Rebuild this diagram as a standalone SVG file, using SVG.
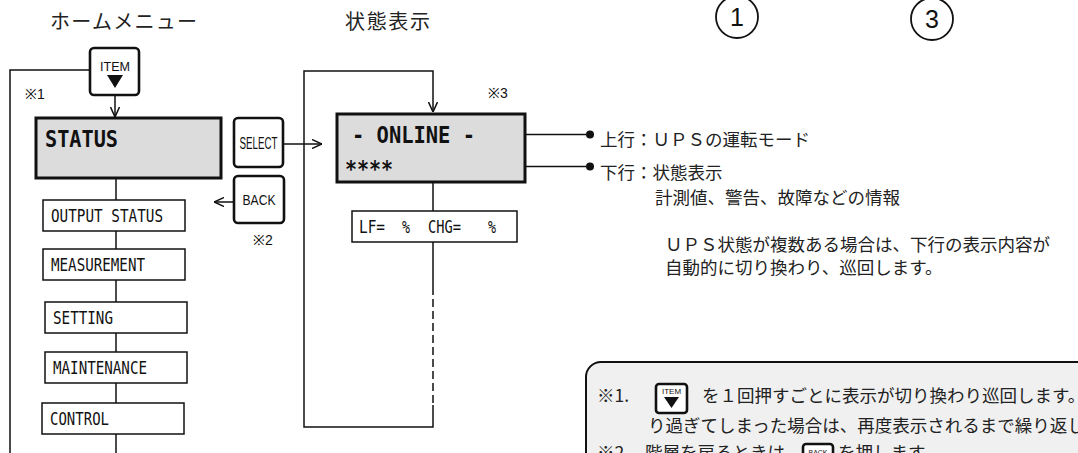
<svg xmlns="http://www.w3.org/2000/svg" width="1078" height="453" viewBox="0 0 1078 453">
<style>
.jp{font-family:"Noto Sans CJK JP","Noto Sans",sans-serif;font-size:17.5px;fill:#222}
.ttl{font-family:"Noto Sans CJK JP","Noto Sans",sans-serif;font-size:20px;fill:#222}
.mono{font-family:"DejaVu Sans Mono","Liberation Mono",monospace;font-size:18.5px;fill:#111}
.big{font-family:"DejaVu Sans Mono","Liberation Mono",monospace;font-size:23px;font-weight:bold;fill:#111}
.key{font-family:"Liberation Sans",Arial,sans-serif;fill:#111}
.ln{fill:none;stroke:#111;stroke-width:1.5}
.box{fill:#fff;stroke:#111;stroke-width:1.5}
.lcd{fill:#dcdcdc;stroke:#111;stroke-width:3}
.btn{fill:#fff;stroke:#111;stroke-width:2.6}
</style>
<defs>
<marker id="ar" viewBox="0 0 10 10" refX="10" refY="5" markerWidth="10" markerHeight="10" markerUnits="userSpaceOnUse" orient="auto">
<path d="M0,0.5 L10,5 L0,9.5" fill="none" stroke="#111" stroke-width="1.5"/>
</marker>
</defs>
<rect width="1078" height="453" fill="#fff"/>

<g id="titles">
<text class="ttl" x="50" y="29" textLength="147" lengthAdjust="spacing">ホームメニュー</text>
<text class="ttl" x="345" y="29" textLength="85" lengthAdjust="spacing">状態表示</text>
</g>

<g id="circle1">
<circle cx="737" cy="17" r="21" fill="none" stroke="#111" stroke-width="1.8"/>
<text class="key" x="737" y="26" font-size="25" text-anchor="middle">1</text>
</g>
<g id="circle3">
<circle cx="932" cy="19" r="21" fill="none" stroke="#111" stroke-width="1.8"/>
<text class="key" x="932" y="28" font-size="25" text-anchor="middle">3</text>
</g>

<g id="connectors">
<path class="ln" d="M90,70 H10 V453"/>
<path class="ln" d="M116,178 V453"/>
<path class="ln" d="M115,95 V117" marker-end="url(#ar)"/>
<path class="ln" d="M283,144 H322" marker-end="url(#ar)"/>
<path class="ln" d="M234,202 H214" marker-end="url(#ar)"/>
<path class="ln" d="M433,182 V211"/>
<path class="ln" d="M433,242 V287"/>
<path class="ln" d="M433,287 V405" stroke-dasharray="8,4"/>
<path class="ln" d="M433,405 V427 H304 V71 H433 V112" marker-end="url(#ar)"/>
<path class="ln" d="M493,134.5 H590"/>
<path class="ln" d="M440,166.5 H590"/>
<circle cx="590" cy="134.5" r="4" fill="#111"/>
<circle cx="590" cy="166.5" r="4" fill="#111"/>
</g>

<g id="btn-item">
<rect class="btn" x="90" y="48" width="49" height="47" rx="4"/>
<text class="key" x="115" y="71" font-size="13" text-anchor="middle" textLength="30" lengthAdjust="spacingAndGlyphs">ITEM</text>
<polygon points="107,75 123,75 115,88" fill="#111"/>
</g>
<text class="key" x="25" y="99" font-size="14">※1</text>

<g id="status">
<rect class="lcd" x="36" y="118" width="185" height="60"/>
<text class="big" x="45" y="147" textLength="73" lengthAdjust="spacingAndGlyphs">STATUS</text>
</g>

<g id="btn-select">
<rect class="btn" x="234" y="118" width="49" height="49" rx="4"/>
<text class="key" x="258.5" y="149" font-size="16" text-anchor="middle" textLength="38" lengthAdjust="spacingAndGlyphs">SELECT</text>
</g>
<g id="btn-back">
<rect class="btn" x="234" y="176" width="50" height="47" rx="4"/>
<text class="key" x="259" y="205" font-size="15" text-anchor="middle" textLength="33" lengthAdjust="spacingAndGlyphs">BACK</text>
</g>
<text class="key" x="253" y="245" font-size="14">※2</text>

<g id="output-status">
<rect class="box" x="43" y="200" width="142" height="31"/>
<text class="mono" x="51" y="222" textLength="112" lengthAdjust="spacingAndGlyphs">OUTPUT STATUS</text>
</g>
<g id="measurement">
<rect class="box" x="43" y="249" width="142" height="31"/>
<text class="mono" x="51" y="271" textLength="94" lengthAdjust="spacingAndGlyphs">MEASUREMENT</text>
</g>
<g id="setting">
<rect class="box" x="45" y="302" width="142" height="31"/>
<text class="mono" x="53" y="324" textLength="60" lengthAdjust="spacingAndGlyphs">SETTING</text>
</g>
<g id="maintenance">
<rect class="box" x="45" y="352" width="142" height="31"/>
<text class="mono" x="53" y="374" textLength="94" lengthAdjust="spacingAndGlyphs">MAINTENANCE</text>
</g>
<g id="control">
<rect class="box" x="42" y="403" width="142" height="31"/>
<text class="mono" x="50" y="425" textLength="59" lengthAdjust="spacingAndGlyphs">CONTROL</text>
</g>

<text class="key" x="488" y="98" font-size="14">※3</text>
<g id="online">
<rect class="lcd" x="337" y="114" width="188" height="68"/>
<text class="big" x="352" y="143" textLength="123" lengthAdjust="spacingAndGlyphs">- ONLINE -</text>
<text class="big" x="345" y="177" font-size="25" textLength="48" lengthAdjust="spacingAndGlyphs">****</text>
</g>
<g id="lf-chg">
<rect class="box" x="352" y="211" width="165" height="31"/>
<text class="mono" x="359" y="233" textLength="26" lengthAdjust="spacingAndGlyphs">LF=</text>
<text class="mono" x="402" y="233" textLength="8" lengthAdjust="spacingAndGlyphs">%</text>
<text class="mono" x="428" y="233" textLength="33" lengthAdjust="spacingAndGlyphs">CHG=</text>
<text class="mono" x="488" y="233" textLength="8" lengthAdjust="spacingAndGlyphs">%</text>
</g>

<g id="desc">
<text class="jp" x="600" y="146">上行：ＵＰＳの運転モード</text>
<text class="jp" x="600" y="179">下行：状態表示</text>
<text class="jp" x="655" y="204">計測値、警告、故障などの情報</text>
<text class="jp" x="665" y="251">ＵＰＳ状態が複数ある場合は、下行の表示内容が</text>
<text class="jp" x="665" y="274">自動的に切り換わり、巡回します。</text>
</g>

<g id="notes">
<path d="M586,470 V377 A15,15 0 0 1 601,362 H1090 V470 Z" fill="#f0f0f0" stroke="#111" stroke-width="2"/>
<text class="jp" x="597" y="402">※1.</text>
<rect class="btn" x="656" y="384" width="31" height="29" rx="3" stroke-width="2.4"/>
<text class="key" x="671.5" y="394" font-size="8" text-anchor="middle">ITEM</text>
<polygon points="664,397 679,397 671.5,408" fill="#111"/>
<text class="jp" x="702" y="402">を１回押すごとに表示が切り換わり巡回します。</text>
<text class="jp" x="648" y="432">り過ぎてしまった場合は、再度表示されるまで繰り返し</text>
<text class="jp" x="597" y="459">※2．</text>
<text class="jp" x="645" y="459">階層を戻るときは、</text>
<rect class="btn" x="803" y="444" width="30" height="29" rx="3" stroke-width="2.4"/>
<text class="key" x="818" y="455" font-size="7" text-anchor="middle">BACK</text>
<text class="jp" x="838" y="459">を押します。</text>
</g>
</svg>
